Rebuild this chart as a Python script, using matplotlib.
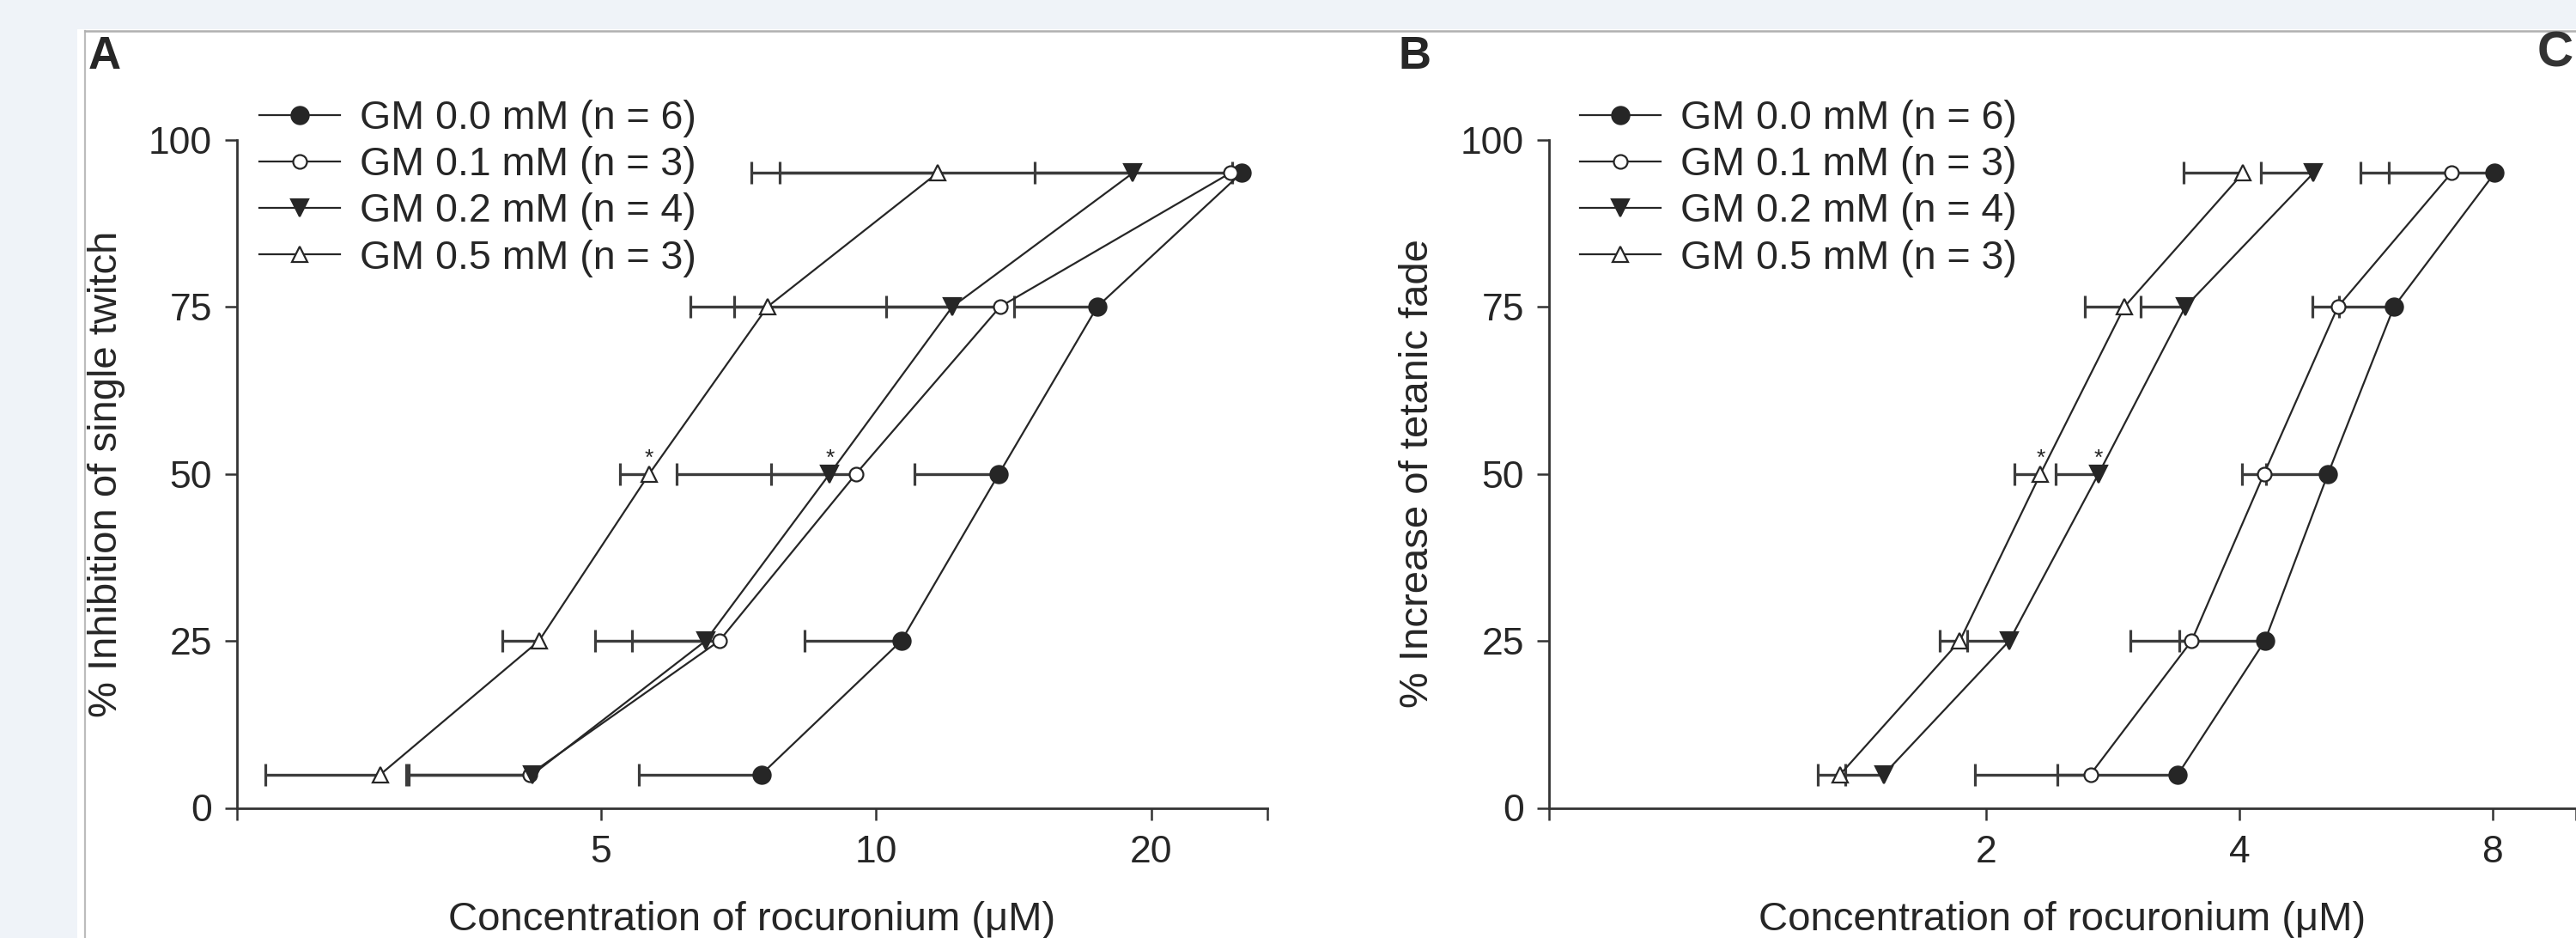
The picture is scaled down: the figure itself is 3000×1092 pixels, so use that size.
import matplotlib
matplotlib.use("Agg")
import matplotlib.pyplot as plt
from matplotlib.patches import Rectangle
from matplotlib.lines import Line2D
import numpy as np

plt.rcParams['font.family'] = ['Liberation Sans', 'DejaVu Sans']

# ---------------- data ----------------
levels = [5, 25, 50, 75, 95]          # % effect levels (y)
series_labels = ['GM 0.0 mM (n = 6)', 'GM 0.1 mM (n = 3)',
                 'GM 0.2 mM (n = 4)', 'GM 0.5 mM (n = 3)']

# Panel A: % inhibition of single twitch -> rocuronium concentration (uM)
twitch_gm00 = [7.49, 10.66, 13.63, 17.46, 25.1]
twitch_gm01 = [4.18, 6.74, 9.51, 13.67, 24.4]
twitch_gm02 = [4.21, 6.51, 8.90, 12.12, 19.09]
twitch_gm05 = [2.87, 4.28, 5.65, 7.61, 11.67]
twitch_gm00_sem = [1.99, 2.30, 2.61, 3.30, 0.60]
twitch_gm01_sem = [1.10, 1.81, 3.46, 7.40, 16.55]
twitch_gm02_sem = [1.15, 1.10, 1.23, 1.86, 4.19]
twitch_gm05_sem = [0.72, 0.38, 0.40, 0.62, 4.37]

# Panel B: % increase of tetanic fade -> rocuronium concentration (uM)
fade_gm00 = [3.38, 4.29, 5.10, 6.11, 8.05]
fade_gm01 = [2.66, 3.51, 4.28, 5.24, 7.15]
fade_gm02 = [1.51, 2.13, 2.72, 3.45, 4.90]
fade_gm05 = [1.34, 1.86, 2.32, 2.92, 4.04]
fade_gm00_sem = [0.95, 1.32, 0.80, 0.86, 2.02]
fade_gm01_sem = [0.72, 0.12, 0.25, 0.35, 1.57]
fade_gm02_sem = [0.15, 0.23, 0.30, 0.40, 0.66]
fade_gm05_sem = [0.08, 0.10, 0.16, 0.30, 0.61]

# significance marks: (series index, level index)
stars = [(3, 2), (2, 2)]

xticks_a = [5, 10, 20]
xticks_b = [2, 4, 8]
yticks = [0, 25, 50, 75, 100]

# ---------------- style ----------------
W, H = 3000, 1092
BG = '#eff3f8'
INK = '#262626'
styles = [dict(marker='o', mfc=INK, ms=14.5),
          dict(marker='o', mfc='white', ms=11.5),
          dict(marker='v', mfc=INK, ms=14),
          dict(marker='^', mfc='white', ms=13.5)]

fig = plt.figure(figsize=(W / 100, H / 100), dpi=100, facecolor=BG)

# white page area and thin frame
fig.add_artist(Rectangle((90 / W, 0), 1 - 90 / W, 1 - 33.5 / H,
                         transform=fig.transFigure, facecolor='white',
                         edgecolor='none', zorder=-5))
fig.add_artist(Line2D([98.5 / W, 98.5 / W], [0, 1 - 36.4 / H],
                      transform=fig.transFigure, color='#bcbcbc', lw=1.6, zorder=-4))
fig.add_artist(Line2D([98.5 / W, 1], [1 - 36.4 / H, 1 - 36.4 / H],
                      transform=fig.transFigure, color='#b0b0b0', lw=1.8, zorder=-4))

ax_a = fig.add_axes([276 / W, 1 - 940.5 / H, 1200 / W, 777.9 / H])
ax_b = fig.add_axes([1804 / W, 1 - 940.5 / H, 1196 / W, 777.9 / H])
for ax in (ax_a, ax_b):
    ax.set_facecolor('none')


def draw_panel(ax, xs, sems, xlim, xticks, ylabel):
    handles = []
    for i, (x, s) in enumerate(zip(xs, sems)):
        x = np.asarray(x, float)
        s = np.asarray(s, float)
        lo = x - s
        ax.hlines(levels, lo, x, color='#3c3c3c', lw=2.4, zorder=2)
        ax.plot(lo, levels, ls='none', marker='|', ms=19, mew=2.3,
                color='#3c3c3c', zorder=2)
        h, = ax.plot(x, levels, color=INK, lw=1.6, mec=INK, mew=1.6,
                     zorder=3, label=series_labels[i], **styles[i])
        handles.append(h)
    for si, li in stars:
        ax.annotate('*', xy=(xs[si][li], levels[li]), xytext=(0, 7.5),
                    textcoords='offset points', ha='center', va='baseline',
                    fontsize=19, color=INK, zorder=4)

    ax.set_xscale('log')
    ax.set_xlim(*xlim)
    ax.set_ylim(0, 100)
    ax.minorticks_off()
    ax.set_xticks([xlim[0]] + xticks + [xlim[1]],
                  [''] + [str(t) for t in xticks] + [''])
    ax.set_yticks(yticks, [str(t) for t in yticks])
    for sp in ('top', 'right'):
        ax.spines[sp].set_visible(False)
    for sp in ('left', 'bottom'):
        ax.spines[sp].set_linewidth(2.0)
        ax.spines[sp].set_color('#333333')
    ax.tick_params(axis='both', direction='out', length=10, width=1.8,
                   color='#333333', labelsize=32, labelcolor=INK)
    ax.tick_params(axis='x', pad=13)
    ax.tick_params(axis='y', pad=11)

    ax.set_xlabel('Concentration of rocuronium (\u03bcM)', fontsize=34,
                  color=INK, va='baseline')
    ax.xaxis.set_label_coords(0.5, -(1083 - 940.5) / 777.9)
    ax.set_ylabel(ylabel, fontsize=34, color=INK, va='baseline')
    return handles


ha = draw_panel(ax_a, [twitch_gm00, twitch_gm01, twitch_gm02, twitch_gm05],
                [twitch_gm00_sem, twitch_gm01_sem, twitch_gm02_sem, twitch_gm05_sem],
                (2.0, 26.8), xticks_a, '% Inhibition of single twitch')
ax_a.yaxis.set_label_coords(-(276 - 136) / 1200, 0.5)

hb = draw_panel(ax_b, [fade_gm00, fade_gm01, fade_gm02, fade_gm05],
                [fade_gm00_sem, fade_gm01_sem, fade_gm02_sem, fade_gm05_sem],
                (0.6036, 10.06), xticks_b, '% Increase of tetanic fade')
ax_b.yaxis.set_label_coords(-(1804 - 1662.6) / 1196, 0.5)

for ax, hs, lx in ((ax_a, ha, 302), (ax_b, hb, 1840)):
    leg = ax.legend(hs, series_labels, loc='upper left',
                    bbox_to_anchor=(lx / W, 1 - 116 / H),
                    bbox_transform=fig.transFigure, frameon=False,
                    borderpad=0, borderaxespad=0, handlelength=2.02,
                    handletextpad=0.5, labelspacing=0.22, fontsize=33.5,
                    numpoints=1)
    for t in leg.get_texts():
        t.set_color(INK)

# panel letters
fig.text(102.6 / W, 1 - 80.4 / H, 'A', fontsize=38, fontweight='bold',
         color=INK, ha='left', va='baseline')
fig.text(1628 / W, 1 - 80.4 / H, 'B', fontsize=38, fontweight='bold',
         color=INK, ha='left', va='baseline')
fig.text(2955 / W, 1 - 77 / H, 'C', fontsize=42, fontweight='bold',
         color='#333333', ha='left', va='baseline', zorder=-3)

fig.savefig('out.png', dpi=100, facecolor=BG)
